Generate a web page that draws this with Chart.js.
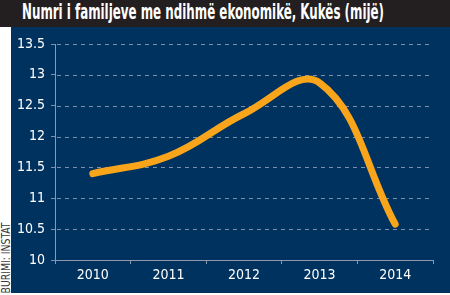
<!DOCTYPE html>
<html><head><meta charset="utf-8">
<script src="https://cdn.jsdelivr.net/npm/chart.js@4.4.1/dist/chart.umd.min.js"></script>
<style>
html,body{margin:0;padding:0;background:#fff;}
#wrap{position:relative;width:450px;height:295px;overflow:hidden;background:#fff;}
#bar{position:absolute;left:0;top:0;width:450px;height:27px;background:#231f20;}
#panel{position:absolute;left:11px;top:27px;width:439px;height:266px;background:#00325f;}
#title{position:absolute;left:22px;top:1px;color:#fff;font-family:"Liberation Sans Narrow","DejaVu Sans Condensed",sans-serif;font-weight:bold;font-size:21px;line-height:22px;white-space:nowrap;transform-origin:0 0;}
#src{position:absolute;left:0;top:0;color:#3a3a3a;font-family:"Liberation Sans Narrow","DejaVu Sans Condensed",sans-serif;font-size:12px;line-height:12px;white-space:nowrap;transform-origin:50% 50%;}
canvas{position:absolute;left:0;top:0;}
</style></head><body>
<div id="wrap">
<div id="bar"></div><div id="panel"></div>
<div id="title">Numri i familjeve me ndihmë ekonomikë, Kukës (mijë)</div>
<div id="src">BURIMI: INSTAT</div>
<canvas id="c" width="450" height="295"></canvas>
</div>
<script>
const categories = ["2010","2011","2012","2013","2014"];
const values = [11.4, 11.68, 12.37, 12.87, 10.58];
const yTicks = [10, 10.5, 11, 11.5, 12, 12.5, 13, 13.5];

const t = document.getElementById('title');
const w = t.getBoundingClientRect().width;
t.style.transform = 'scaleX(' + (362 / w) + ')';

const src = document.getElementById('src');
const sr = src.getBoundingClientRect();
const sw = sr.width, sh = sr.height;
src.style.left = (6 - sw / 2) + 'px';
src.style.top = (257.5 - sh / 2) + 'px';
src.style.transform = 'rotate(-90deg) scaleX(' + (71 / sw) + ')';

const fontFam = '"Liberation Sans Narrow","DejaVu Sans Condensed",sans-serif';
const axisCol = '#8c9ab0';
const dashGrid = {
  id: 'dashGrid',
  beforeDatasetsDraw(chart) {
    const { ctx, chartArea, scales } = chart;
    ctx.save();
    ctx.strokeStyle = '#7d8fab';
    ctx.lineWidth = 1;
    ctx.setLineDash([4, 4]);
    yTicks.forEach(v => {
      if (v === 10) return;
      const y = Math.round(scales.y.getPixelForValue(v)) + 0.5;
      ctx.beginPath();
      ctx.moveTo(chartArea.left + 2, y);
      ctx.lineTo(chartArea.right, y);
      ctx.stroke();
    });
    ctx.restore();
  }
};
new Chart(document.getElementById('c'), {
  type: 'line',
  data: { labels: categories, datasets: [{
    data: values, borderColor: '#f9a51b', borderWidth: 7, tension: 0.4,
    pointRadius: 0, borderCapStyle: 'round', borderJoinStyle: 'round', fill: false
  }]},
  plugins: [dashGrid],
  options: {
    responsive: false, animation: false,
    layout: { padding: { top: 44, right: 17, left: 0, bottom: 0 } },
    plugins: { legend: { display: false }, tooltip: { enabled: false } },
    scales: {
      x: {
        offset: true,
        grid: { drawOnChartArea: false, offset: true, color: axisCol, tickLength: 4 },
        border: { color: axisCol, width: 1 },
        ticks: { color: '#fff', font: { family: fontFam, size: 14 }, padding: 3 },
        afterFit: s => { s.height = 35; }
      },
      y: {
        min: 10, max: 13.5,
        afterBuildTicks: s => { s.ticks = yTicks.map(v => ({ value: v })); },
        grid: { drawOnChartArea: false, color: '#7d8fab', lineWidth: 1, tickLength: 4 },
        border: { color: axisCol, width: 1 },
        ticks: { color: '#fff', font: { family: fontFam, size: 14 }, padding: 6,
                 callback: v => String(v) },
        afterFit: s => { s.width = 55; }
      }
    }
  }
});
</script>
</body></html>
